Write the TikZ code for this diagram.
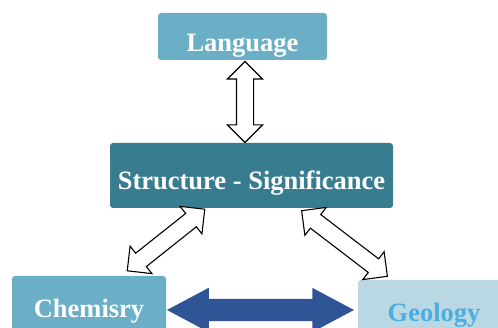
\documentclass[tikz,border=0pt]{standalone}
\usepackage{fontspec}
\setmainfont{Liberation Serif}
\usetikzlibrary{shapes.arrows}
\definecolor{azulclaro}{HTML}{6BAFC6}
\definecolor{azuloscuro}{HTML}{377D8F}
\definecolor{azulpalido}{HTML}{BAD8E3}
\definecolor{azultexto}{HTML}{4BADE0}
\definecolor{azulflecha}{HTML}{2F5597}
\begin{document}
\begin{tikzpicture}[x=1pt,y=-1pt,inner sep=0mm]
\tikzstyle{caja}=[rounded corners=3pt,text=white,text height=30pt,text depth=0pt,font=\bfseries\fontsize{26.5}{30}\selectfont]
\tikzstyle{hueca}=[double arrow,draw=black,fill=white,line width=1.1pt,inner ysep=8pt,double arrow head extend=9pt,sloped]
\useasboundingbox (0,0) rectangle (498,328);
\clip (0,0) rectangle (498,328);
\node at (242.5,36.5) (lengua)[caja,fill=azulclaro,minimum width=169pt,minimum height=47pt] {Language};
\node at (251.5,175.5) (estructura)[caja,fill=azuloscuro,minimum width=283pt,minimum height=65pt,text height=29pt] {Structure - Significance};
\node at (89,308) (quimica)[caja,fill=azulclaro,minimum width=154pt,minimum height=64pt,text height=20pt] {Chemisry};
\node at (434,312) (geologia)[caja,fill=azulpalido,text=azultexto,minimum width=152pt,minimum height=64pt,text height=20pt] {Geology};
%% extremos de las flechas
\coordinate (l1) at (245,61);
\coordinate (e0) at (245,143);
\coordinate (e1) at (205,209);
\coordinate (q1) at (127,271);
\coordinate (e2) at (302,211);
\coordinate (g1) at (387,276);
\path (l1) -- node (f1)[hueca,minimum height=81pt] {} (e0);
\path (e1) -- node (f2)[hueca,minimum height=99pt] {} (q1);
\path (e2) -- node (f3)[hueca,minimum height=108pt] {} (g1);
\node at (260.5,310) (f4)[double arrow,fill=azulflecha,inner ysep=11pt,minimum height=187pt,double arrow head extend=11pt,double arrow tip angle=56] {};
\end{tikzpicture}
\end{document}
